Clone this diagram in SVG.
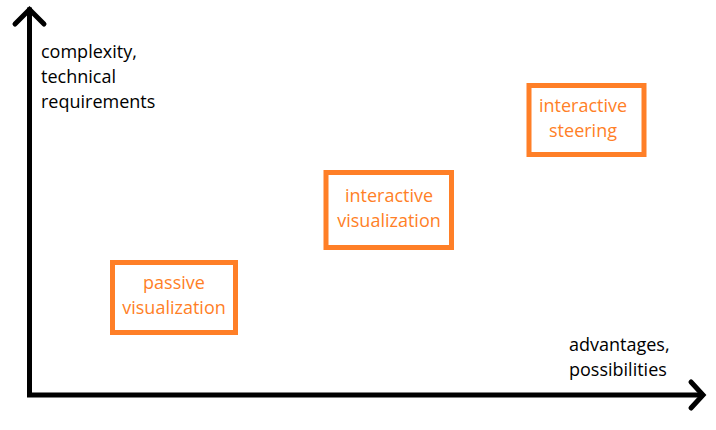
<svg xmlns="http://www.w3.org/2000/svg" width="716" height="430" viewBox="0 0 716 430">
<style>
.ax{stroke:#000;stroke-width:5;fill:none;stroke-linecap:square}
.head{stroke:#000;stroke-width:5;fill:none;stroke-linecap:round;stroke-linejoin:miter}
.box{fill:#fff;stroke:#FF7F27;stroke-width:5}
.bt{font-family:"Open Sans","Noto Sans",sans-serif;font-size:18px;fill:#FF7F27;text-anchor:middle}
.lt{font-family:"Open Sans","Noto Sans",sans-serif;font-size:18px;fill:#000}
</style>
<rect width="716" height="430" fill="#fff"/>
<g id="connectors">
<path class="ax" d="M29.5 10 V395 H701"/>
<path class="head" d="M15 24 L29.5 9.5 L44 24"/>
<path class="head" d="M691 382 L703 395 L691 408"/>
</g>
<g id="yLabel">
<text class="lt" x="41" y="58">complexity,</text>
<text class="lt" x="41" y="83">technical</text>
<text class="lt" x="41" y="108">requirements</text>
</g>
<g id="xLabel">
<text class="lt" x="569" y="351">advantages,</text>
<text class="lt" x="569" y="376">possibilities</text>
</g>
<g id="passive">
<rect class="box" x="112.5" y="262.5" width="123" height="70"/>
<text class="bt" x="174" y="289">passive</text>
<text class="bt" x="174" y="314">visualization</text>
</g>
<g id="interactiveVis">
<rect class="box" x="326" y="172.5" width="125.5" height="75"/>
<text class="bt" x="389" y="202">interactive</text>
<text class="bt" x="389" y="227">visualization</text>
</g>
<g id="steering">
<rect class="box" x="529" y="85.5" width="115" height="69"/>
<text class="bt" x="583" y="112">interactive</text>
<text class="bt" x="583" y="137">steering</text>
</g>
</svg>
